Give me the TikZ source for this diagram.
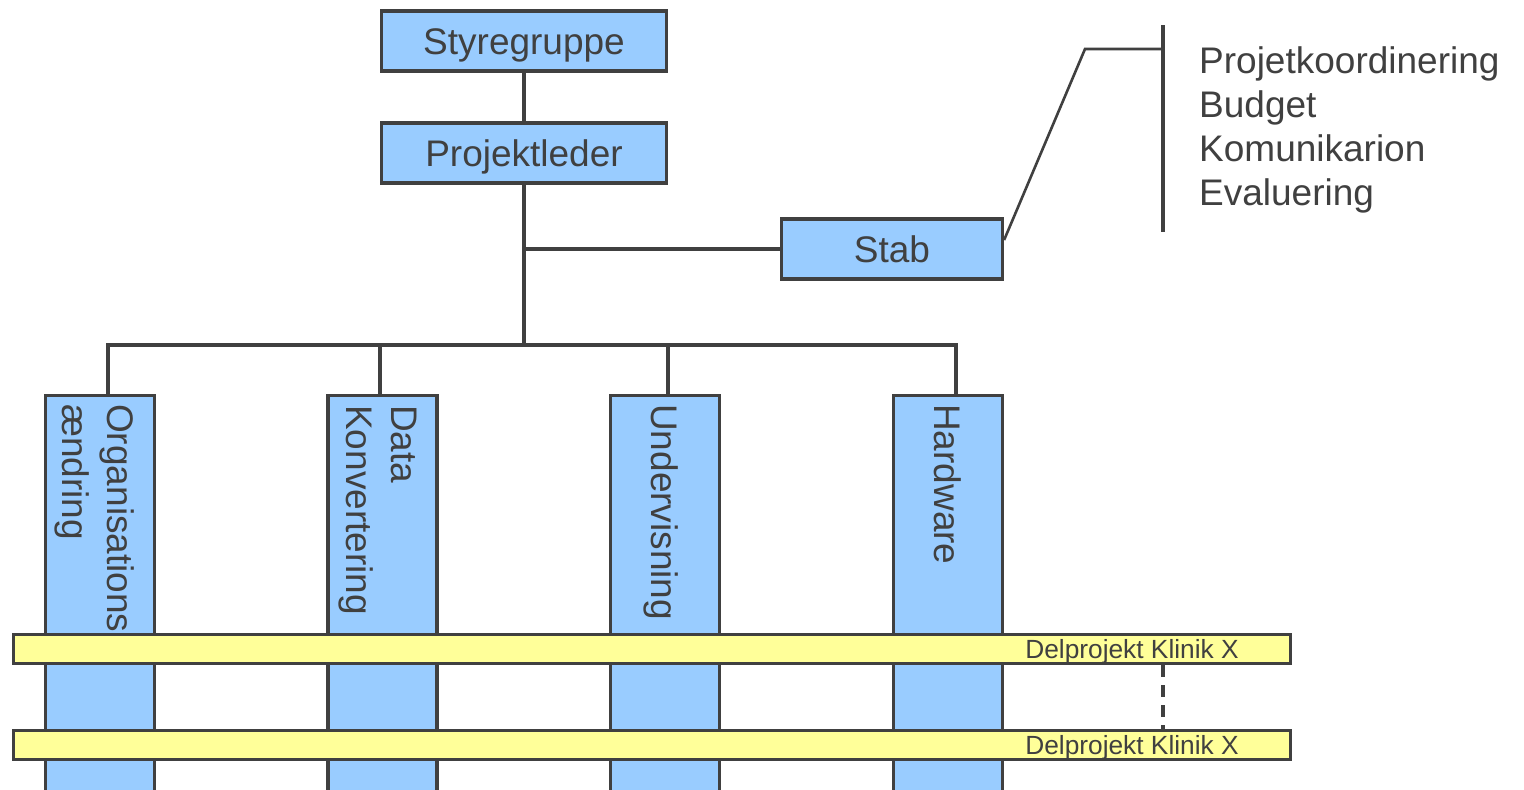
\documentclass[tikz,border=0pt]{standalone}
\usepackage{fontspec}
\setmainfont{Liberation Sans}
\usetikzlibrary{calc}
\definecolor{boxblue}{HTML}{99CCFF}
\definecolor{baryellow}{HTML}{FFFF99}
\definecolor{ink}{HTML}{404040}
\newcommand\dgbig{\fontsize{37}{45}\selectfont}
\newcommand\dgsmall{\fontsize{26.3}{30}\selectfont}
\begin{document}
\begin{tikzpicture}[x=1pt,y=-1pt,
  box/.style={draw=ink, fill=boxblue, line width=3.2pt, inner sep=0pt, text=ink, font=\dgbig, text height=26.5pt, text depth=0pt},
  colbox/.style={draw=ink, fill=boxblue, line width=3.2pt, minimum width=109pt, minimum height=440pt, anchor=north, inner sep=0pt},
  vlab/.style={rotate=-90, anchor=west, inner sep=0pt, text=ink, font=\dgbig, text height=26.5pt, text depth=0pt},
  barbox/.style={draw=ink, fill=baryellow, line width=3pt, minimum width=1277pt, minimum height=29pt, inner sep=0pt},
  barlab/.style={font=\dgsmall, text=ink, inner sep=0pt, text height=18.8pt, text depth=0pt},
  conn/.style={draw=ink, line width=3.4pt, line join=miter}]
\useasboundingbox (0,0) rectangle (1524,790);
\clip (0,0) rectangle (1524,790);
\fill[white] (0,0) rectangle (1524,790);

% top boxes
\node[box, minimum width=285pt, minimum height=60pt] (sty) at (524,41) {Styregruppe};
\node[box, minimum width=285pt, minimum height=60pt] (pl) at (524,153) {Projektleder};
\node[box, minimum width=221pt, minimum height=60pt] (stab) at (892,249) {Stab};

% columns
\node[colbox] (org) at (100,394) {};
\node[colbox] (data) at (382.5,394) {};
\node[colbox] (und) at (665,394) {};
\node[colbox] (hard) at (948,394) {};

\node[vlab, text depth=45pt] (orgt) at ([xshift=-2pt,yshift=-10pt]org.north) {\vtop{\baselineskip=45pt\hbox{Organisations}\hbox{ændring}}};
\node[vlab, text depth=45pt] (datat) at ([yshift=-11pt]data.north) {\vtop{\baselineskip=45pt\hbox{Data}\hbox{Konvertering}}};
\node[vlab] (undt) at ([yshift=-10pt]und.north) {Undervisning};
\node[vlab] (hardt) at ([yshift=-10pt]hard.north) {Hardware};

% connectors
\coordinate (busc) at (524,345);
\coordinate (b1) at (108,345);
\coordinate (b2) at (380,345);
\coordinate (b3) at (668,345);
\coordinate (b4) at (956,345);
\draw[conn] (sty.south) -- (pl.north);
\draw[conn] (pl.south) -- (busc);
\draw[conn] (pl.south |- stab.west) -- (stab.west);
\draw[conn] (b1 |- org.north) -- (b1) -- (b4) -- (b4 |- hard.north);
\draw[conn] (b2) -- (b2 |- data.north);
\draw[conn] (b3) -- (b3 |- und.north);

% stab list
\coordinate (sbend) at (1085,49);
\coordinate (ltop) at (1163,25);
\coordinate (lbot) at (1163,232);
\draw[conn, line width=2.6pt] ([yshift=9pt]stab.east) -- (sbend) -- (sbend -| ltop);
\draw[conn] (ltop) -- (lbot);
\node[anchor=base west, inner sep=0pt, text=ink, font=\dgbig] (list) at (1199,73)
  {\vtop{\baselineskip=44.2pt\hbox{Projetkoordinering}\hbox{Budget}\hbox{Komunikarion}\hbox{Evaluering}}};

% bars
\node[barbox] (bar1) at (652,649) {};
\node[barbox] (bar2) at (652,745) {};
\node[barlab] (bar1t) at ([xshift=-160pt]bar1.east) {Delprojekt Klinik X};
\node[barlab] (bar2t) at ([xshift=-160pt]bar2.east) {Delprojekt Klinik X};
\draw[conn, dash pattern=on 12pt off 8pt] (bar1.south -| lbot) -- (bar2.north -| lbot);
\end{tikzpicture}
\end{document}
